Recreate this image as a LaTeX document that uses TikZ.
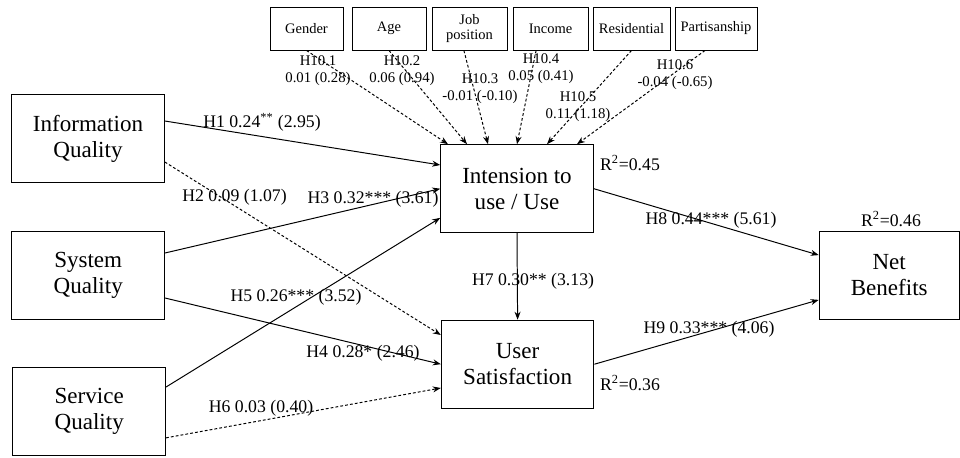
\documentclass[tikz,border=0pt]{standalone}
\usepackage{fontspec}
\setmainfont{Liberation Serif}
\usetikzlibrary{arrows.meta}

\begin{document}
\begin{tikzpicture}[>={Stealth[length=2mm,width=1.5mm]}, line width=0.7pt,
  bigbox/.style={draw, minimum width=3.815cm, minimum height=2.2cm, align=center, inner sep=0pt, font=\fontsize{16.4}{18.5}\selectfont},
  ctrlbox/.style={draw, minimum height=1.075cm, align=center, inner sep=0pt, font=\fontsize{10.3}{11.1}\selectfont},
  lbl/.style={inner sep=0pt, font=\fontsize{12.6}{15}\selectfont},
  hlbl/.style={align=center, inner sep=0pt, font=\fontsize{10.5}{12.1}\selectfont},
  dsh/.style={dash pattern=on 2pt off 1.5pt}]
\useasboundingbox (0,0) rectangle (24,11.425);

% constructs
\node[bigbox] (info) at (2.2,7.955) {Information\\Quality};
\node[bigbox] (sys) at (2.205,4.5375) {System\\Quality};
\node[bigbox] (serv) at (2.23,1.129) {Service\\Quality};
\node[bigbox] (int) at (12.925,6.7075) {Intension to\\use / Use};
\node[bigbox] (us) at (12.94,2.32) {User\\Satisfaction};
\node[bigbox, minimum width=3.5cm] (net) at (22.23,4.5375) {Net\\Benefits};

% control variables
\node[ctrlbox, minimum width=1.825cm] (gender) at (7.6625,10.7125) {Gender};
\node[ctrlbox, minimum width=1.85cm] (age) at (9.725,10.7125) {Age};
\node[ctrlbox, minimum width=1.875cm] (job) at (11.7375,10.7125) {Job\\position};
\node[ctrlbox, minimum width=1.875cm] (income) at (13.7625,10.7125) {Income};
\node[ctrlbox, minimum width=1.925cm] (resid) at (15.7875,10.7125) {Residential};
\node[ctrlbox, minimum width=2.05cm] (partis) at (17.9,10.7125) {Partisanship};

\draw[->,dsh] (gender.south) -- ([xshift=-1.725cm]int.north);
\draw[->,dsh] (age.south) -- ([xshift=-1.25cm]int.north);
\draw[->,dsh] ([xshift=-0.14cm]job.south) -- ([xshift=-0.725cm]int.north);
\draw[->,dsh] ([xshift=-0.36cm]income.south) -- (int.north);
\draw[->,dsh] (resid.south) -- ([xshift=0.75cm]int.north);
\draw[->,dsh] ([xshift=-0.275cm]partis.south) -- ([xshift=1.5cm]int.north);

\node[hlbl] (h101) at (7.95,9.65) {H10.1\\0.01 (0.28)};
\node[hlbl] (h102) at (10.05,9.65) {H10.2\\0.06 (0.94)};
\node[hlbl] (h103) at (12.0,9.2) {H10.3\\-0.01 (-0.10)};
\node[hlbl] (h104) at (13.525,9.7) {H10.4\\0.05 (0.41)};
\node[hlbl] (h105) at (14.45,8.75) {H10.5\\0.11 (1.18)};
\node[hlbl] (h106) at (16.875,9.55) {H10.6\\-0.04 (-0.65)};

% paths
\draw[->] ([yshift=0.445cm]info.east) -- ([yshift=0.5925cm]int.west);
\draw[->,dsh] ([yshift=-0.58cm]info.east) -- ([yshift=0.73cm]us.west);
\draw[->] ([yshift=0.5625cm]sys.east) -- (int.west);
\draw[->] ([yshift=-0.5625cm]sys.east) -- (us.west);
\draw[->] ([yshift=0.62cm]serv.east) -- ([yshift=-0.73cm]int.west);
\draw[->,dsh] ([yshift=-0.65cm]serv.east) -- ([yshift=-0.595cm]us.west);
\draw[->] (int.south) -- (us.north);
\draw[->] (int.east) -- ([yshift=0.51cm]net.west);
\draw[->] (us.east) -- ([yshift=-0.61cm]net.west);

\node[lbl] (h1) at (6.55,8.375) {H1 0.24\textsuperscript{**} (2.95)};
\node[lbl] (h2) at (5.8625,6.5) {H2 0.09 (1.07)};
\node[lbl] (h3) at (9.325,6.45) {H3 0.32*** (3.61)};
\node[lbl] (h5) at (7.4,4.0) {H5 0.26*** (3.52)};
\node[lbl] (h4) at (9.075,2.6) {H4 0.28* (2.46)};
\node[lbl] (h6) at (6.525,1.225) {H6 0.03 (0.40)};
\node[lbl] (h7) at (13.325,4.4) {H7 0.30** (3.13)};
\node[lbl] (h8) at (17.775,5.925) {H8 0.44*** (5.61)};
\node[lbl] (h9) at (17.725,3.2) {H9 0.33*** (4.06)};

\node[lbl] (r2int) at (15.75,7.35) {R\textsuperscript{2}=0.45};
\node[lbl] (r2net) at (22.275,5.95) {R\textsuperscript{2}=0.46};
\node[lbl] (r2us) at (15.75,1.85) {R\textsuperscript{2}=0.36};
\end{tikzpicture}
\end{document}
